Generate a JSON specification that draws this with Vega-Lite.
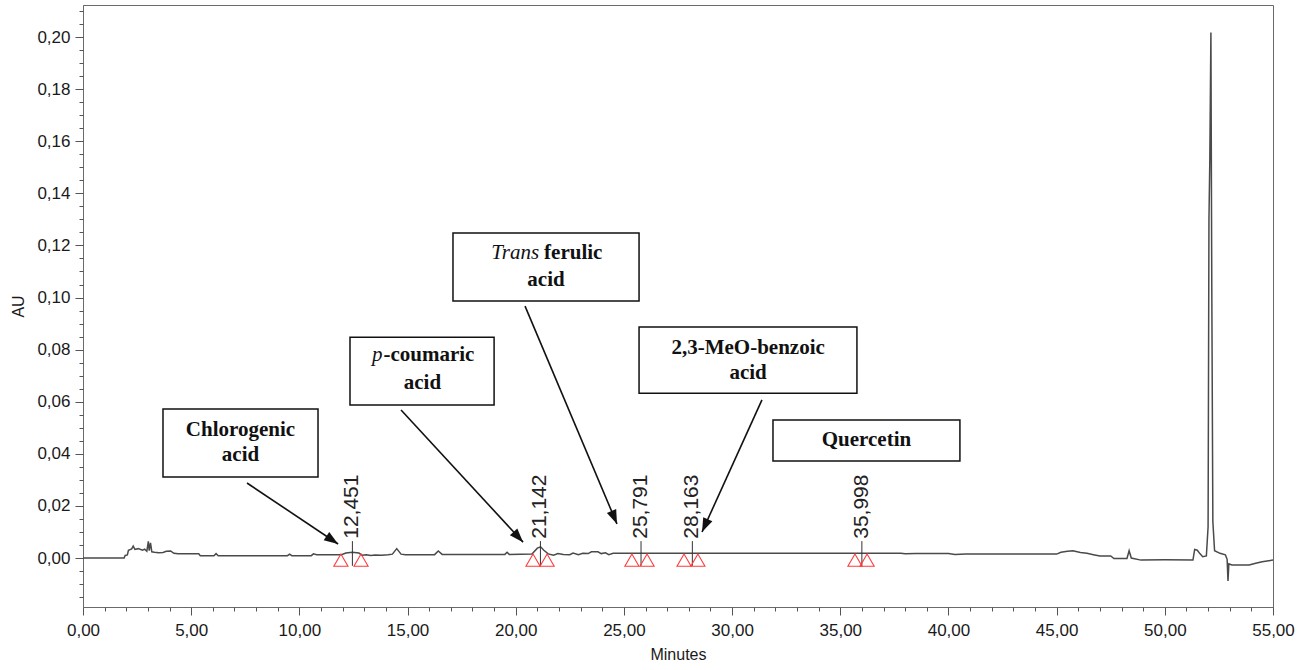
{
  "$schema": "https://vega.github.io/schema/vega-lite/v6.json",
  "width": 1190,
  "height": 602,
  "autosize": "none",
  "padding": {"left": 83, "top": 5, "right": 33, "bottom": 63},
  "background": "white",
  "config": {
    "locale": {"number": {"decimal": ",", "thousands": ".", "grouping": [3], "currency": ["", ""]}},
    "view": {"stroke": "#6a6a6a", "strokeWidth": 1},
    "axis": {
      "labelFont": "Liberation Sans",
      "titleFont": "Liberation Sans",
      "labelColor": "#1a1a1a",
      "titleColor": "#1a1a1a",
      "tickColor": "#555555",
      "domainColor": "#6a6a6a",
      "grid": false,
      "labelFontSize": 17,
      "titleFontSize": 16,
      "titleFontWeight": "normal"
    }
  },
  "datasets": {
    "trace": [
      {"t": 0, "au": 0}, {"t": 1.9, "au": 0}, {"t": 1.95, "au": 0.001}, {"t": 2.05, "au": 0.0012},
      {"t": 2.1, "au": 0.003}, {"t": 2.25, "au": 0.0035}, {"t": 2.32, "au": 0.0046}, {"t": 2.4, "au": 0.0033},
      {"t": 2.55, "au": 0.0036}, {"t": 2.75, "au": 0.003}, {"t": 2.85, "au": 0.0034}, {"t": 2.95, "au": 0.0026},
      {"t": 3.02, "au": 0.0064}, {"t": 3.06, "au": 0.0028}, {"t": 3.12, "au": 0.0058}, {"t": 3.18, "au": 0.0024},
      {"t": 3.3, "au": 0.0022}, {"t": 3.5, "au": 0.002}, {"t": 3.7, "au": 0.0021}, {"t": 3.85, "au": 0.0026},
      {"t": 4.05, "au": 0.0027}, {"t": 4.2, "au": 0.0018}, {"t": 4.4, "au": 0.0016}, {"t": 5.35, "au": 0.0016},
      {"t": 5.42, "au": 0.0009}, {"t": 6.05, "au": 0.0009}, {"t": 6.15, "au": 0.0017}, {"t": 6.25, "au": 0.0009},
      {"t": 9.45, "au": 0.0009}, {"t": 9.55, "au": 0.0015}, {"t": 9.65, "au": 0.0009}, {"t": 10.55, "au": 0.0009},
      {"t": 10.65, "au": 0.0016}, {"t": 10.8, "au": 0.0013}, {"t": 11.95, "au": 0.0013}, {"t": 12.15, "au": 0.0019},
      {"t": 12.45, "au": 0.0022}, {"t": 12.75, "au": 0.0019}, {"t": 12.9, "au": 0.0011}, {"t": 13.1, "au": 0.0013},
      {"t": 13.3, "au": 0.001}, {"t": 13.5, "au": 0.0012}, {"t": 13.8, "au": 0.0011}, {"t": 14.1, "au": 0.0013},
      {"t": 14.3, "au": 0.0015}, {"t": 14.5, "au": 0.0036}, {"t": 14.7, "au": 0.0015}, {"t": 14.9, "au": 0.0013},
      {"t": 16.25, "au": 0.0013}, {"t": 16.42, "au": 0.0027}, {"t": 16.6, "au": 0.0014}, {"t": 19.5, "au": 0.0014},
      {"t": 19.6, "au": 0.0022}, {"t": 19.7, "au": 0.0014}, {"t": 20.75, "au": 0.0015}, {"t": 21.0, "au": 0.0038},
      {"t": 21.15, "au": 0.0043}, {"t": 21.3, "au": 0.003}, {"t": 21.5, "au": 0.0016}, {"t": 21.75, "au": 0.0011},
      {"t": 21.95, "au": 0.0017}, {"t": 22.2, "au": 0.0014}, {"t": 22.5, "au": 0.0013}, {"t": 22.65, "au": 0.0019},
      {"t": 22.9, "au": 0.0013}, {"t": 23.1, "au": 0.0018}, {"t": 23.35, "au": 0.0017}, {"t": 23.5, "au": 0.0024},
      {"t": 23.8, "au": 0.0024}, {"t": 23.95, "au": 0.0017}, {"t": 24.15, "au": 0.002}, {"t": 24.3, "au": 0.0013},
      {"t": 24.5, "au": 0.0018}, {"t": 37.8, "au": 0.0018}, {"t": 38.0, "au": 0.0016}, {"t": 38.5, "au": 0.0017},
      {"t": 40.0, "au": 0.0017}, {"t": 40.3, "au": 0.0014}, {"t": 40.8, "au": 0.0015}, {"t": 41.2, "au": 0.0015},
      {"t": 45.0, "au": 0.0015}, {"t": 45.2, "au": 0.0022}, {"t": 45.5, "au": 0.0026}, {"t": 45.75, "au": 0.0028},
      {"t": 46.1, "au": 0.0021}, {"t": 46.4, "au": 0.0018}, {"t": 46.7, "au": 0.0013}, {"t": 47.0, "au": 0.0008},
      {"t": 47.5, "au": 0.0008}, {"t": 47.65, "au": -0.0002}, {"t": 48.25, "au": -0.0002}, {"t": 48.35, "au": 0.0028},
      {"t": 48.45, "au": 0.0}, {"t": 48.9, "au": -0.0008}, {"t": 50.0, "au": -0.0007}, {"t": 51.3, "au": -0.0008},
      {"t": 51.38, "au": 0.0033}, {"t": 51.5, "au": 0.003}, {"t": 51.62, "au": 0.0017}, {"t": 51.75, "au": 0.0005},
      {"t": 51.92, "au": 0.0008}, {"t": 52.0, "au": 0.012}, {"t": 52.04, "au": 0.13}, {"t": 52.08, "au": 0.153},
      {"t": 52.13, "au": 0.2017}, {"t": 52.17, "au": 0.106}, {"t": 52.22, "au": 0.014}, {"t": 52.3, "au": 0.0028},
      {"t": 52.55, "au": 0.0018}, {"t": 52.8, "au": 0.0012}, {"t": 52.88, "au": -0.0005}, {"t": 52.92, "au": -0.0088},
      {"t": 52.96, "au": -0.0022}, {"t": 53.1, "au": -0.0027}, {"t": 53.9, "au": -0.0027}, {"t": 54.2, "au": -0.002},
      {"t": 54.5, "au": -0.0014}, {"t": 55, "au": -0.0008}
    ],
    "peaks": [
      {"rt": 12.451, "label": "12,451"},
      {"rt": 21.142, "label": "21,142"},
      {"rt": 25.791, "label": "25,791"},
      {"rt": 28.163, "label": "28,163"},
      {"rt": 35.998, "label": "35,998"}
    ],
    "marks": [
      {"t": 11.92}, {"t": 12.85}, {"t": 20.8}, {"t": 21.45}, {"t": 25.37},
      {"t": 26.07}, {"t": 27.78}, {"t": 28.42}, {"t": 35.68}, {"t": 36.24}
    ],
    "boxes": [
      {"name": "chl", "x1": 3.697, "x2": 10.862, "y1": 0.0311, "y2": 0.0572},
      {"name": "pc", "x1": 12.34, "x2": 19.0, "y1": 0.0587, "y2": 0.0848},
      {"name": "tf", "x1": 17.1, "x2": 25.7, "y1": 0.0987, "y2": 0.1248},
      {"name": "meo", "x1": 25.7, "x2": 35.77, "y1": 0.0633, "y2": 0.0887},
      {"name": "q", "x1": 31.89, "x2": 40.53, "y1": 0.0372, "y2": 0.053}
    ],
    "boldCenter": [
      {"txt": "Chlorogenic", "t": 7.28, "au": 0.0491},
      {"txt": "acid", "t": 7.28, "au": 0.0395},
      {"txt": "acid", "t": 15.69, "au": 0.0672},
      {"txt": "acid", "t": 21.4, "au": 0.1067},
      {"txt": "2,3-MeO-benzoic", "t": 30.74, "au": 0.0806},
      {"txt": "acid", "t": 30.74, "au": 0.071},
      {"txt": "Quercetin", "t": 36.21, "au": 0.0453}
    ],
    "italicPart": [
      {"txt": "p", "t": 13.84, "au": 0.0779},
      {"txt": "Trans", "t": 21.08, "au": 0.1171}
    ],
    "boldPart": [
      {"txt": "-coumaric", "t": 13.84, "au": 0.0779},
      {"txt": "ferulic", "t": 21.08, "au": 0.1171}
    ],
    "arrows": [
      {"name": "chl", "t1": 7.58, "a1": 0.0288, "t2": 11.79, "a2": 0.0054},
      {"name": "pc", "t1": 14.7, "a1": 0.0568, "t2": 20.34, "a2": 0.0061},
      {"name": "tf", "t1": 20.43, "a1": 0.0967, "t2": 24.68, "a2": 0.0131},
      {"name": "meo", "t1": 31.38, "a1": 0.0607, "t2": 28.61, "a2": 0.01}
    ]
  },
  "resolve": {"axis": {"x": "independent", "y": "independent"}},
  "layer": [
    {
      "data": {"name": "trace"},
      "mark": {"type": "line", "color": "#4a4a4a", "strokeWidth": 1.5, "interpolate": "linear"},
      "encoding": {
        "x": {
          "field": "t", "type": "quantitative",
          "scale": {"domain": [0, 55], "nice": false, "zero": false},
          "axis": {
            "orient": "bottom", "values": [0, 5, 10, 15, 20, 25, 30, 35, 40, 45, 50, 55],
            "format": ".2f", "title": "Minutes", "tickSize": 8, "labelPadding": 7,
            "titlePadding": 8, "labelFlush": false, "labelOverlap": false
          }
        },
        "y": {
          "field": "au", "type": "quantitative",
          "scale": {"domain": [-0.0188, 0.2123], "nice": false, "zero": false},
          "axis": {
            "orient": "left", "values": [0, 0.02, 0.04, 0.06, 0.08, 0.1, 0.12, 0.14, 0.16, 0.18, 0.2],
            "format": ".2f", "title": "AU", "tickSize": 8, "labelPadding": 5,
            "titlePadding": 10, "labelOverlap": false
          }
        }
      }
    },
    {
      "data": {"name": "trace"},
      "mark": {"type": "point", "opacity": 0, "size": 1},
      "encoding": {
        "x": {
          "field": "t", "type": "quantitative",
          "axis": {
            "orient": "bottom", "values": [0,1,2,3,4,5,6,7,8,9,10,11,12,13,14,15,16,17,18,19,20,21,22,23,24,25,26,27,28,29,30,31,32,33,34,35,36,37,38,39,40,41,42,43,44,45,46,47,48,49,50,51,52,53,54,55],
            "labels": false, "title": null, "tickSize": 4, "domain": false
          }
        },
        "y": {
          "field": "au", "type": "quantitative",
          "axis": {
            "orient": "left", "values": [-0.015,-0.01,-0.005,0,0.005,0.01,0.015,0.02,0.025,0.03,0.035,0.04,0.045,0.05,0.055,0.06,0.065,0.07,0.075,0.08,0.085,0.09,0.095,0.1,0.105,0.11,0.115,0.12,0.125,0.13,0.135,0.14,0.145,0.15,0.155,0.16,0.165,0.17,0.175,0.18,0.185,0.19,0.195,0.2,0.205,0.21],
            "labels": false, "title": null, "tickSize": 4, "domain": false
          }
        }
      }
    },
    {
      "data": {"name": "peaks"},
      "mark": {"type": "rule", "color": "#333333", "strokeWidth": 1},
      "encoding": {
        "x": {"field": "rt", "type": "quantitative", "axis": null},
        "y": {"datum": -0.003, "type": "quantitative", "axis": null},
        "y2": {"datum": 0.0065}
      }
    },
    {
      "data": {"name": "marks"},
      "mark": {"type": "point", "shape": "triangle-up", "filled": false, "stroke": "#ff3b3b", "strokeWidth": 1.1, "size": 200, "opacity": 1},
      "encoding": {
        "x": {"field": "t", "type": "quantitative", "axis": null},
        "y": {"datum": -0.0008, "type": "quantitative", "axis": null}
      }
    },
    {
      "data": {"name": "peaks"},
      "mark": {"type": "text", "angle": 270, "align": "left", "baseline": "middle", "font": "Liberation Sans", "fontSize": 21, "color": "#222222"},
      "encoding": {
        "x": {"field": "rt", "type": "quantitative", "axis": null},
        "y": {"datum": 0.0074, "type": "quantitative", "axis": null},
        "text": {"field": "label"}
      }
    },
    {
      "data": {"name": "boxes"},
      "mark": {"type": "rect", "fill": "white", "stroke": "#111111", "strokeWidth": 1.5},
      "encoding": {
        "x": {"field": "x1", "type": "quantitative", "axis": null},
        "x2": {"field": "x2"},
        "y": {"field": "y1", "type": "quantitative", "axis": null},
        "y2": {"field": "y2"}
      }
    },
    {
      "data": {"name": "boldCenter"},
      "mark": {"type": "text", "align": "center", "baseline": "middle", "font": "Liberation Serif", "fontWeight": "bold", "fontSize": 21, "color": "#111111"},
      "encoding": {
        "x": {"field": "t", "type": "quantitative", "axis": null},
        "y": {"field": "au", "type": "quantitative", "axis": null},
        "text": {"field": "txt"}
      }
    },
    {
      "data": {"name": "italicPart"},
      "mark": {"type": "text", "align": "right", "baseline": "middle", "font": "Liberation Serif", "fontStyle": "italic", "fontSize": 21, "color": "#111111"},
      "encoding": {
        "x": {"field": "t", "type": "quantitative", "axis": null},
        "y": {"field": "au", "type": "quantitative", "axis": null},
        "text": {"field": "txt"}
      }
    },
    {
      "data": {"name": "boldPart"},
      "mark": {"type": "text", "align": "left", "baseline": "middle", "dx": 1, "font": "Liberation Serif", "fontWeight": "bold", "fontSize": 21, "color": "#111111"},
      "transform": [{"filter": "datum.txt == '-coumaric'"}],
      "encoding": {
        "x": {"field": "t", "type": "quantitative", "axis": null},
        "y": {"field": "au", "type": "quantitative", "axis": null},
        "text": {"field": "txt"}
      }
    },
    {
      "data": {"name": "boldPart"},
      "mark": {"type": "text", "align": "left", "baseline": "middle", "dx": 5, "font": "Liberation Serif", "fontWeight": "bold", "fontSize": 21, "color": "#111111"},
      "transform": [{"filter": "datum.txt == 'ferulic'"}],
      "encoding": {
        "x": {"field": "t", "type": "quantitative", "axis": null},
        "y": {"field": "au", "type": "quantitative", "axis": null},
        "text": {"field": "txt"}
      }
    },
    {
      "data": {"name": "arrows"},
      "mark": {"type": "rule", "color": "#111111", "strokeWidth": 1.6},
      "encoding": {
        "x": {"field": "t1", "type": "quantitative", "axis": null},
        "y": {"field": "a1", "type": "quantitative", "axis": null},
        "x2": {"field": "t2"},
        "y2": {"field": "a2"}
      }
    },
    {
      "data": {"name": "arrows"},
      "transform": [{"filter": "datum.name == 'chl'"}],
      "mark": {"type": "point", "shape": "M0,0L0.36,1L-0.36,1Z", "filled": true, "color": "#111111", "opacity": 1, "size": 784, "angle": 123.8},
      "encoding": {
        "x": {"field": "t2", "type": "quantitative", "axis": null},
        "y": {"field": "a2", "type": "quantitative", "axis": null}
      }
    },
    {
      "data": {"name": "arrows"},
      "transform": [{"filter": "datum.name == 'pc'"}],
      "mark": {"type": "point", "shape": "M0,0L0.36,1L-0.36,1Z", "filled": true, "color": "#111111", "opacity": 1, "size": 784, "angle": 137.3},
      "encoding": {
        "x": {"field": "t2", "type": "quantitative", "axis": null},
        "y": {"field": "a2", "type": "quantitative", "axis": null}
      }
    },
    {
      "data": {"name": "arrows"},
      "transform": [{"filter": "datum.name == 'tf'"}],
      "mark": {"type": "point", "shape": "M0,0L0.36,1L-0.36,1Z", "filled": true, "color": "#111111", "opacity": 1, "size": 784, "angle": 157.1},
      "encoding": {
        "x": {"field": "t2", "type": "quantitative", "axis": null},
        "y": {"field": "a2", "type": "quantitative", "axis": null}
      }
    },
    {
      "data": {"name": "arrows"},
      "transform": [{"filter": "datum.name == 'meo'"}],
      "mark": {"type": "point", "shape": "M0,0L0.36,1L-0.36,1Z", "filled": true, "color": "#111111", "opacity": 1, "size": 784, "angle": 204.4},
      "encoding": {
        "x": {"field": "t2", "type": "quantitative", "axis": null},
        "y": {"field": "a2", "type": "quantitative", "axis": null}
      }
    }
  ]
}
